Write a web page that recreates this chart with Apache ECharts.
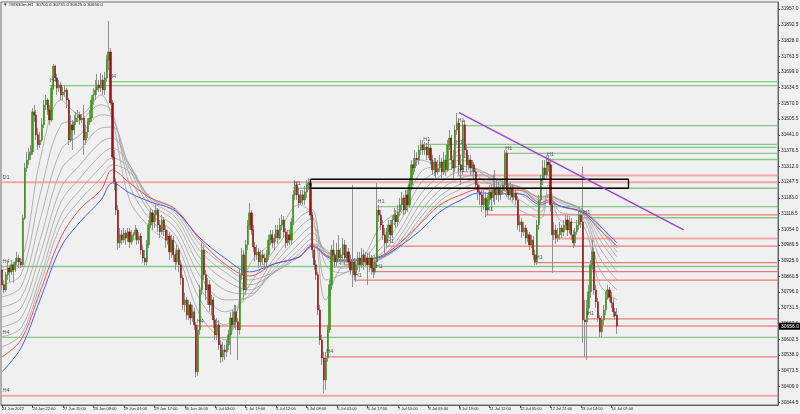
<!DOCTYPE html>
<html><head><meta charset="utf-8">
<script src="https://cdn.jsdelivr.net/npm/echarts@6/dist/echarts.min.js"></script>
<style>html,body{margin:0;padding:0;background:#f0f0f0;}#c{width:800px;height:414px;}</style>
</head><body><div id="c"></div>
<script>
const symbolName = '#WS30m,H1';
const xTickLabels = ["24 Jun 2022","24 Jun 22:00","27 Jun 15:00","28 Jun 08:00","29 Jun 01:00","29 Jun 17:00","30 Jun 10:00","1 Jul 03:00","1 Jul 19:00","4 Jul 12:00","5 Jul 08:00","6 Jul 01:00","6 Jul 17:00","7 Jul 10:00","8 Jul 03:00","8 Jul 19:00","11 Jul 12:00","12 Jul 05:00","12 Jul 21:00","13 Jul 14:00","14 Jul 07:00"];
const barsPerTick = 16;
const totalSlots = 408;
const yTickValues = [31957.0,31892.5,31828.0,31763.5,31699.0,31634.5,31570.0,31505.5,31441.0,31376.5,31312.0,31247.5,31183.0,31118.5,31054.0,30989.5,30925.0,30860.5,30796.0,30731.5,30667.0,30602.5,30538.0,30473.5,30409.0,30344.5];

const opens = [30887,30826,30805,30867,30895,30879,30908,30887,30920,30936,
30920,30908,31100,31305,31338,31359,31371,31535,31523,31441,
31400,31420,31482,31564,31584,31543,31502,31633,31723,31674,
31633,31646,31605,31617,31625,31584,31420,31482,31461,31494,
31510,31523,31502,31510,31420,31453,31494,31510,31584,31605,
31625,31646,31633,31666,31625,31674,31748,31781,31572,31350,
31248,31133,30998,31031,31010,31039,31018,31043,31002,31026,
31031,31051,31010,31026,30969,30936,30920,30990,31071,31121,
31084,31112,31133,31071,31043,31092,31051,31010,31026,30961,
31010,30949,30920,30969,30908,30854,30744,30764,30702,30744,
30690,30715,30662,30469,30641,30805,30969,30867,30805,30826,
30744,30764,30682,30621,30662,30580,30530,30559,30551,30580,
30621,30690,30662,30715,30674,30641,30867,30949,30805,30990,
31071,31121,31051,30981,30949,30961,30920,30949,30936,30920,
30949,31010,31031,30998,31018,31051,31018,31071,31092,31043,
30998,31031,31010,31084,31195,31236,31195,31162,31195,31174,
31207,31236,31244,31112,30969,30908,30867,30723,30600,30526,
30436,30526,30641,30826,30969,30949,30920,30969,30936,30949,
30990,30936,30961,30920,30887,30920,30867,30908,30936,30908,
30949,30920,30936,30908,30936,30895,30879,30920,31133,31112,
31071,31031,30998,31043,31071,31031,31092,31112,31084,31125,
31154,31182,31133,31195,31154,31236,31318,31305,31346,31338,
31379,31400,31379,31391,31359,31387,31338,31297,31330,31289,
31305,31330,31289,31338,31297,31400,31428,31338,31305,31461,
31490,31318,31297,31482,31379,31318,31338,31305,31318,31289,
31236,31207,31195,31154,31182,31133,31174,31207,31182,31223,
31195,31227,31195,31215,31236,31367,31215,31195,31223,31186,
31203,31174,31071,31084,31043,31059,31018,31031,30990,31010,
30949,30920,31071,31174,31256,31305,31277,31330,31318,31154,
31031,31051,31018,31031,31059,31043,31071,31092,31051,31084,
31031,30998,31043,31071,31112,31084,30682,30674,30731,30797,
30908,30961,30805,30756,30690,30633,30682,30723,30772,30805,
30776,30752,30715,30701.6];

const closes = [30826,30805,30867,30895,30879,30908,30887,30920,30936,30920,
30908,31100,31305,31338,31359,31371,31535,31523,31441,31400,
31420,31482,31564,31584,31543,31502,31633,31723,31674,31633,
31646,31605,31617,31625,31584,31420,31482,31461,31494,31510,
31523,31502,31510,31420,31453,31494,31510,31584,31605,31625,
31646,31633,31666,31625,31674,31748,31781,31572,31350,31248,
31133,30998,31031,31010,31039,31018,31043,31002,31026,31031,
31051,31010,31026,30969,30936,30920,30990,31071,31121,31084,
31112,31133,31071,31043,31092,31051,31010,31026,30961,31010,
30949,30920,30969,30908,30854,30744,30764,30702,30744,30690,
30715,30662,30469,30641,30805,30969,30867,30805,30826,30744,
30764,30682,30621,30662,30580,30530,30559,30551,30580,30621,
30690,30662,30715,30674,30641,30867,30949,30805,30990,31071,
31121,31051,30981,30949,30961,30920,30949,30936,30920,30949,
31010,31031,30998,31018,31051,31018,31071,31092,31043,30998,
31031,31010,31084,31195,31236,31195,31162,31195,31174,31207,
31236,31244,31112,30969,30908,30867,30723,30600,30526,30436,
30526,30641,30826,30969,30949,30920,30969,30936,30949,30990,
30936,30961,30920,30887,30920,30867,30908,30936,30908,30949,
30920,30936,30908,30936,30895,30879,30920,31133,31112,31071,
31031,30998,31043,31071,31031,31092,31112,31084,31125,31154,
31182,31133,31195,31154,31236,31318,31305,31346,31338,31379,
31400,31379,31391,31359,31387,31338,31297,31330,31289,31305,
31330,31289,31338,31297,31400,31428,31338,31305,31461,31490,
31318,31297,31482,31379,31318,31338,31305,31318,31289,31236,
31207,31195,31154,31182,31133,31174,31207,31182,31223,31195,
31227,31195,31215,31236,31367,31215,31195,31223,31186,31203,
31174,31071,31084,31043,31059,31018,31031,30990,31010,30949,
30920,31071,31174,31256,31305,31277,31330,31318,31154,31031,
31051,31018,31031,31059,31043,31071,31092,31051,31084,31031,
30998,31043,31071,31112,31084,30682,30674,30731,30797,30908,
30961,30805,30756,30690,30633,30682,30723,30772,30805,30776,
30752,30715,30698,30656.0];

const highs = [30908,30846,30879,30920,30908,30928,30920,30936,30961,30949,
30936,31112,31326,31371,31387,31400,31551,31564,31543,31469,
31453,31510,31584,31605,31592,31564,31646,31732,31728,31691,
31666,31658,31637,31646,31633,31592,31523,31502,31523,31535,
31543,31535,31527,31564,31482,31510,31543,31605,31633,31666,
31691,31666,31695,31687,31699,31768,31908,31797,31584,31379,
31264,31154,31059,31051,31059,31051,31059,31059,31051,31043,
31071,31059,31043,31039,30990,30969,31010,31092,31141,31133,
31133,31154,31141,31092,31112,31104,31071,31051,31043,31031,
31026,30969,30990,30977,30928,30867,30793,30776,30764,30756,
30744,30731,30674,30662,30826,30998,30990,30887,30854,30846,
30785,30776,30702,30690,30682,30600,30592,30580,30600,30641,
30715,30723,30744,30744,30690,30895,30977,30969,31010,31092,
31162,31133,31071,31002,30990,30977,30969,30969,30953,30969,
31031,31051,31051,31035,31071,31071,31100,31112,31108,31059,
31051,31051,31100,31215,31256,31248,31223,31215,31215,31231,
31256,31264,31256,31125,30990,30928,30879,30744,30621,30551,
30551,30662,30846,30990,31010,30969,30998,31031,30977,31018,
31010,30990,30977,30949,31236,30936,30928,30961,30961,30977,
30969,30961,30957,30961,30949,30920,30949,31244,31154,31133,
31092,31059,31059,31092,31092,31112,31141,31133,31154,31182,
31207,31195,31215,31215,31264,31338,31346,31379,31371,31400,
31420,31420,31412,31408,31420,31400,31359,31346,31346,31338,
31359,31346,31371,31359,31420,31461,31441,31379,31482,31531,
31502,31359,31502,31502,31400,31359,31359,31338,31330,31305,
31256,31236,31215,31215,31207,31195,31236,31236,31277,31297,
31256,31248,31236,31264,31379,31379,31236,31248,31236,31223,
31223,31190,31112,31100,31084,31071,31051,31043,31031,31026,
30969,31092,31195,31277,31338,31338,31359,31359,31338,31174,
31084,31071,31059,31084,31071,31092,31112,31112,31108,31100,
31051,31059,31092,31133,31133,31309,30764,30764,30826,30928,
31010,30977,30826,30772,30702,30698,30744,30797,30826,30817,
30797,30772,30731,30731.0];

const lows = [30805,30793,30797,30846,30838,30867,30834,30879,30908,30895,
30895,30899,31092,31289,31318,31338,31359,31494,31420,31379,
31387,31412,31469,31543,31523,31482,31494,31625,31658,31605,
31617,31584,31584,31596,31551,31400,31412,31379,31441,31482,
31494,31482,31490,31359,31400,31428,31482,31494,31564,31584,
31605,31617,31617,31605,31605,31658,31707,31564,31338,31215,
31112,30969,30977,30990,30998,30990,31002,30977,30990,31010,
31010,30990,30994,30949,30916,30908,30908,30977,31059,31051,
31059,31084,31043,31018,31031,31026,30977,30990,30928,30936,
30920,30887,30908,30879,30826,30723,30715,30682,30682,30662,
30674,30641,30448,30452,30621,30785,30846,30764,30744,30715,
30702,30649,30600,30600,30559,30506,30510,30518,30530,30559,
30539,30641,30649,30641,30518,30621,30846,30764,30785,30969,
31051,31031,30961,30920,30928,30895,30903,30908,30887,30903,
30928,30990,30977,30969,31002,30994,31010,31051,31018,30977,
30985,30990,30990,31071,31174,31174,31141,31154,31154,31154,
31182,31215,31092,30936,30887,30846,30702,30580,30497,30383,
30395,30510,30629,30805,30920,30895,30903,30920,30908,30928,
30908,30920,30895,30867,30817,30846,30838,30887,30879,30895,
30887,30903,30826,30879,30867,30854,30867,30895,31084,31051,
31010,30940,30977,31018,31010,31018,31071,31059,31067,31108,
31133,31112,31117,31125,31141,31215,31277,31289,31313,31318,
31359,31359,31359,31338,31346,31318,31277,31272,31264,31277,
31289,31264,31277,31272,31289,31379,31297,31256,31289,31441,
31277,31236,31277,31346,31289,31297,31277,31289,31256,31215,
31174,31154,31125,31133,31104,31112,31154,31133,31166,31154,
31174,31166,31174,31195,31215,31186,31174,31174,31166,31174,
31154,31051,31043,31018,31026,30994,31002,30969,30977,30928,
30908,30908,31051,31154,31236,31256,31264,31289,31125,30875,
31010,30994,31002,31010,31018,31026,31051,31026,31035,31010,
30977,30985,31031,31051,31059,30588,30530,30518,30702,30772,
30887,30785,30731,30674,30612,30612,30662,30702,30764,30756,
30731,30694,30682,30625.0];

// moving averages, read at these bar indexes
const maIdx = [0,10,20,31,41,52,58,67,78,91,104,117,130,143,156,163,170,178,188,199,209,220,230,241,251,261,272,283,287,293,305,314,323];
const maRed = [30530,30600,30797,31022,31137,31215,31297,31244,31182,31137,31010,30912,30862,30912,30940,30990,30949,30928,30932,30944,30998,31080,31154,31195,31219,31211,31215,31162,31174,31149,31121,31051,30985];
const maBlue = [30469,30567,30764,30981,31084,31174,31244,31203,31166,31129,31018,30936,30879,30912,30940,30985,30944,30924,30928,30940,30985,31051,31125,31174,31203,31199,31199,31154,31166,31149,31125,31067,30998];
const maGrey1 = [30887,30920,31338,31584,31523,31605,31502,31174,31059,30969,30702,30600,30908,31010,31154,31112,30764,30895,30920,31071,31141,31338,31318,31379,31223,31215,31133,31100,31236,31092,31071,30826,30764];
const maGrey2 = [30826,30867,31195,31482,31502,31564,31535,31236,31092,31002,30764,30662,30826,30969,31100,31133,30846,30867,30912,31018,31112,31289,31318,31359,31264,31223,31174,31125,31195,31125,31100,30887,30805];
const maGrey3 = [30776,30817,31092,31379,31441,31523,31510,31277,31121,31031,30813,30715,30785,30936,31059,31100,30908,30875,30903,30977,31084,31244,31297,31338,31289,31240,31199,31145,31186,31149,31117,30936,30846];
const maGrey4 = [30735,30772,31010,31297,31379,31469,31473,31305,31141,31059,30862,30764,30776,30912,31022,31067,30944,30895,30903,30953,31051,31199,31272,31313,31297,31252,31215,31162,31186,31162,31125,30977,30879];
const maGrey5 = [30694,30731,30949,31223,31318,31412,31428,31318,31162,31084,30903,30805,30789,30891,30994,31039,30961,30912,30908,30936,31026,31162,31244,31289,31289,31256,31223,31174,31190,31170,31129,31010,30912];
const maGrey6 = [30653,30690,30895,31166,31264,31359,31387,31318,31174,31104,30936,30846,30805,30879,30969,31014,30969,30920,30916,30932,31006,31129,31215,31264,31277,31252,31227,31182,31195,31174,31133,31035,30940];
const maGrey7 = [30612,30649,30854,31112,31215,31309,31346,31305,31182,31121,30965,30879,30826,30875,30953,30994,30969,30924,30920,30932,30990,31104,31190,31240,31260,31244,31227,31186,31195,31174,31133,31055,30961];
const maGrey8 = [30571,30621,30826,31071,31174,31264,31318,31289,31186,31133,30990,30903,30846,30879,30940,30981,30961,30928,30924,30936,30981,31084,31170,31219,31244,31236,31223,31186,31190,31174,31133,31071,30977];

// horizontal levels
const levelPrices = [31659,31643,31479,31402,31390,31365,31340,31274,31247,31222,31147,31113,31101,31016,30985,30917,30901,30880,30845,30686,30657,30610,30530,30371];
const levelStarts = [56,25,239,221,238,264,286,239,0,153,197,254,305,290,202,280,0,196,185,307,102,0,170,0];
const levelType = ['sup','sup','sup','sup','sup','sup','sup','major','major','sup','sup','res','sup','major','res','res','sup','res','res','res','major','sup','res','major'];
const levelTags = ['H4','H4','H1','H1','H1','H1','H1','H1','D1','H1','H1','H1','H1','','H1','H1','H4','H1','H1','H1','H4','H4','H4','H4'];

const boxIdx = [162, 329];
const boxPrices = [31259, 31222];
const trendIdx = [240, 358];
const trendPrices = [31532, 31051];

// ---------- build ----------
const FONT = 'Liberation Sans';
const categories = Array.from({length: totalSlots}, (_, i) =>
  (i % barsPerTick === 0 && i / barsPerTick < xTickLabels.length) ? xTickLabels[i / barsPerTick] : '');
const candleData = opens.map((o, i) => [o, closes[i], lows[i], highs[i]]);
const bodyData = opens.map((o, i) => [o, closes[i], Math.min(o, closes[i]), Math.max(o, closes[i])]);
const last = opens.length - 1;

const levelStyle = {
  sup: {color: '#86c886', width: 1.3},
  res: {color: '#ee7a7a', width: 1.2},
  major: {color: '#f4a6a6', width: 2}
};

const series = [];
levelPrices.forEach((p, k) => {
  series.push({
    type: 'line', silent: true, z: 1, symbol: 'none', animation: false,
    data: [[levelStarts[k], p], [totalSlots - 1, p]],
    lineStyle: levelStyle[levelType[k]]
  });
});

const maLine = (arr, color, width, z) => ({
  type: 'line', silent: true, z: z, symbol: 'none', smooth: 0.35, animation: false,
  data: maIdx.map((ix, k) => [ix, arr[k]]),
  lineStyle: {color: color, width: width}
});
[maGrey8, maGrey7, maGrey6, maGrey5, maGrey4, maGrey3, maGrey2, maGrey1].forEach(a => series.push(maLine(a, '#a2a2a2', 0.8, 2)));
series.push(maLine(maRed, '#ff4a4a', 1, 2));
series.push(maLine(maBlue, '#3f5cff', 1, 2));

series.push({
  type: 'candlestick', z: 3, silent: true, animation: false, barWidth: 1.0,
  data: candleData,
  itemStyle: {color: '#8f8f8f', color0: '#8f8f8f', borderColor: '#8f8f8f', borderColor0: '#8f8f8f', borderWidth: 1}
});
series.push({
  type: 'candlestick', z: 4, silent: true, animation: false, barWidth: 1.7,
  data: bodyData,
  itemStyle: {color: '#3c9a18', color0: '#a01010', borderColor: '#2f8a10', borderColor0: '#8c0c0c', borderWidth: 0.5},
  markLine: {
    silent: true, symbol: 'none', animation: false,
    lineStyle: {color: 'rgba(0,0,0,0)', width: 1, type: 'solid'},
    label: {show: true, position: 'end', distance: 1, formatter: closes[last].toFixed(1),
      backgroundColor: '#000', color: '#fff', fontSize: 5, fontFamily: FONT, padding: [1, 2, 1, 2]},
    data: [{yAxis: closes[last]}]
  }
});

series.push({
  type: 'line', silent: true, z: 5, symbol: 'none', animation: false,
  data: [[boxIdx[0], boxPrices[0]], [boxIdx[1], boxPrices[0]], [boxIdx[1], boxPrices[1]], [boxIdx[0], boxPrices[1]], [boxIdx[0], boxPrices[0]]],
  lineStyle: {color: '#000', width: 1.4}
});
series.push({
  type: 'line', silent: true, z: 5, symbol: 'none', animation: false,
  data: [[trendIdx[0], trendPrices[0]], [trendIdx[1], trendPrices[1]]],
  lineStyle: {color: '#9a3fd6', width: 1.4}
});
series.push({
  type: 'scatter', silent: true, z: 6, animation: false, symbolSize: 1,
  itemStyle: {color: 'transparent'},
  data: levelPrices.map((p, k) => [levelStarts[k], p, levelTags[k]]).filter(d => d[2]),
  label: {show: true, position: 'right', distance: 0, offset: [0, -5],
    formatter: p => p.value[2], fontSize: 5.5, fontFamily: FONT, color: '#2a2a40'}
});

const chart = echarts.init(document.getElementById('c'), null, {renderer: 'canvas'});
chart.setOption({
  animation: false,
  backgroundColor: '#f0f0f0',
  grid: {left: 1, right: 22, top: 2, bottom: 9, show: true, borderColor: '#707070', borderWidth: 1, outerBoundsMode: 'none'},
  xAxis: {
    type: 'category', data: categories, boundaryGap: true,
    axisLine: {show: true, lineStyle: {color: '#606060'}},
    axisTick: {show: true, alignWithLabel: true, interval: (i, v) => v !== '', length: 3, lineStyle: {color: '#505050'}},
    axisLabel: {interval: (i, v) => v !== '', align: 'left', fontSize: 4, fontFamily: FONT, color: '#222', margin: 1.5},
    splitLine: {show: false}
  },
  yAxis: {
    type: 'value', position: 'right', min: 30333, max: 31986, scale: true,
    axisLine: {show: true, lineStyle: {color: '#606060'}},
    axisTick: {show: true, customValues: yTickValues, length: 2, lineStyle: {color: '#505050'}},
    axisLabel: {customValues: yTickValues, formatter: v => v.toFixed(1), fontSize: 4.8, fontFamily: FONT, color: '#222', margin: 3},
    splitLine: {show: false}
  },
  graphic: [{
    type: 'text', left: 3, top: 3, silent: true,
    style: {text: '\u25BC ' + symbolName + '  ' + [opens[last], highs[last], lows[last], closes[last]].map(v => v.toFixed(1)).join(' '),
      fontSize: 4.4, fontFamily: FONT, fill: '#222'}
  }],
  series: series
});
</script>
</body></html>
